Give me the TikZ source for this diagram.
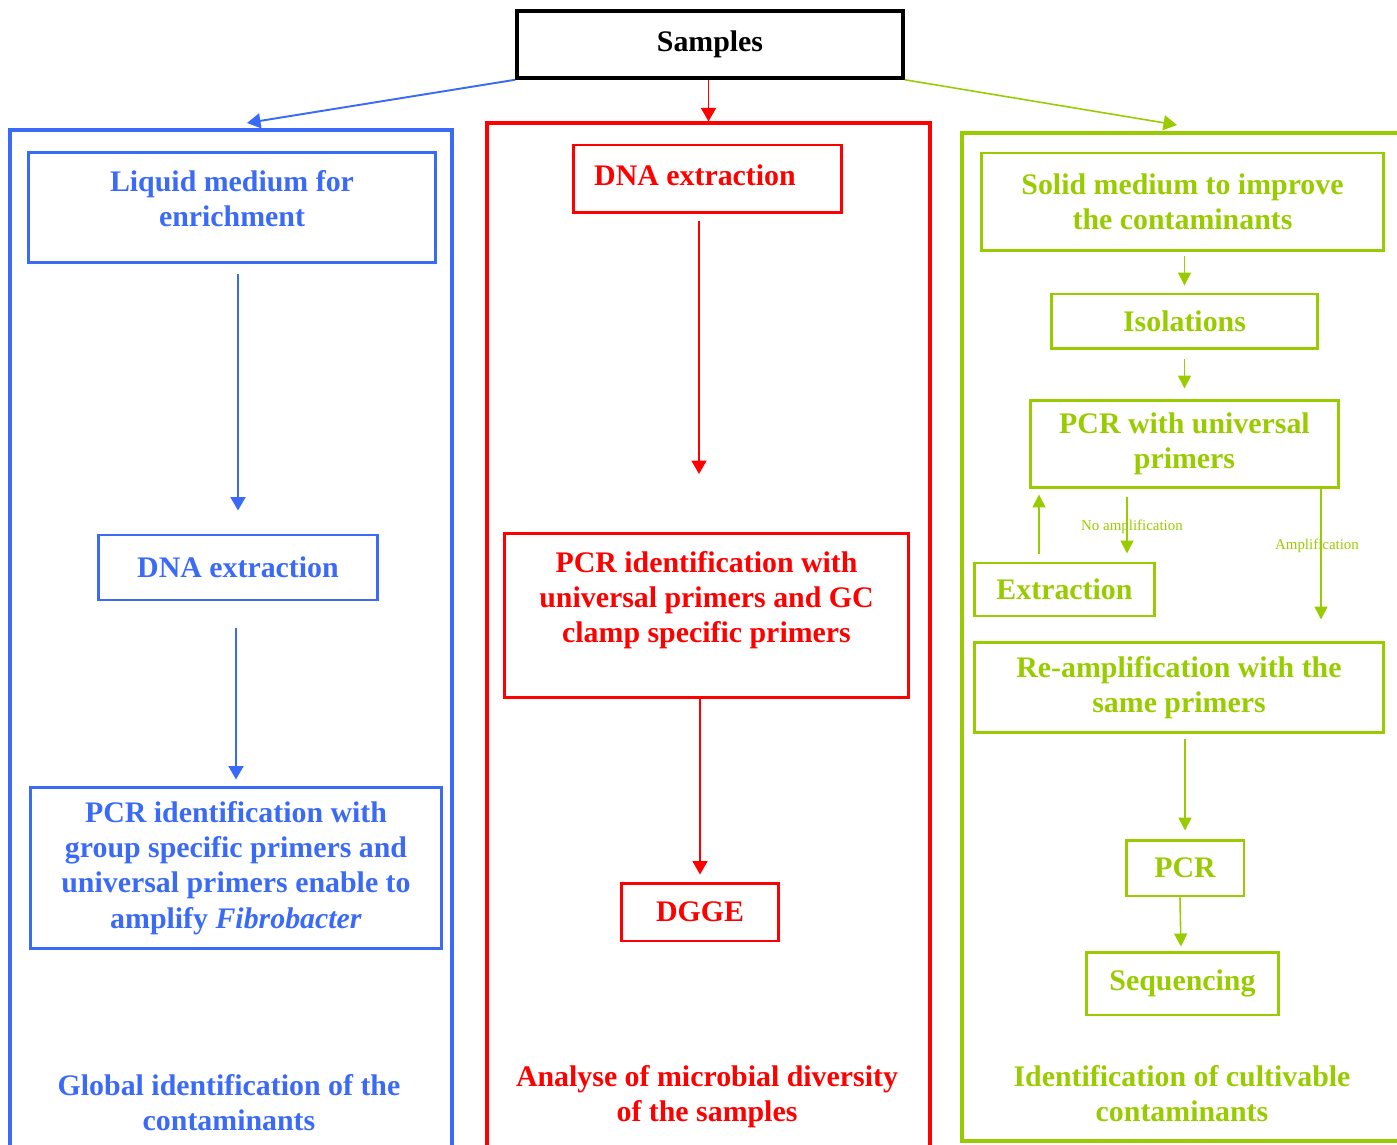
\documentclass[tikz,border=0pt]{standalone}
\usepackage{fontspec}
\setmainfont{Liberation Serif}
\usetikzlibrary{arrows.meta, calc}

\definecolor{colblue}{RGB}{59,107,246}
\definecolor{colred}{RGB}{255,0,0}
\definecolor{colgreen}{RGB}{153,204,0}

\newcommand{\lowpad}[1]{\rule[-#1]{0pt}{0pt}}

\begin{document}
\begin{tikzpicture}[
    x=0.02cm, y=-0.02cm,
    % ── node styles ─────────────────────────────────────────
    stage/.style = {draw, line width=1.7pt, align=center, inner sep=2pt,
            font=\fontsize{17}{20}\selectfont\bfseries},
    lane/.style = {draw, line width=1.9pt, inner sep=0pt},
    summary/.style = {align=center, font=\fontsize{17}{20}\selectfont\bfseries},
    tag/.style = {font=\fontsize{8.5}{10}\selectfont, text=colgreen},
    flow/.style = {-{Triangle[length=0.27cm, width=0.3cm]}, line width=1.1pt},
    gflow/.style = {-{Triangle[length=0.26cm, width=0.26cm]}, line width=0.9pt, colgreen},
    ]

    \useasboundingbox (0,0) rectangle (1397,1145);
    \clip (0,0) rectangle (1397,1145);

    % ============================================================
    % LANES  |  SAMPLES
    % ============================================================
    \node[lane, draw=colblue, minimum width=8.84cm, minimum height=20.8cm]
    (bluelane) at (231,650) {};
    \node[lane, draw=colred, minimum width=8.86cm, minimum height=20.94cm]
    (redlane) at (708.5,646.5) {};
    \node[lane, draw=colgreen, minimum width=8.96cm, minimum height=20.16cm]
    (greenlane) at (1186,637) {};

    \node[stage, draw=black, line width=2pt, minimum width=7.72cm, minimum height=1.34cm]
    (samples) at (710,44.5) {Samples};

    \coordinate (bluein) at (247,123);
    \coordinate (greenin) at (1177,125);

    \draw[flow, colblue] (samples.south west) -- (bluein);
    \draw[flow, colred] (samples.south -| redlane.north) -- (redlane.north);
    \draw[flow, colgreen, line width=0.9pt] (samples.south east) -- (greenin);

    % ============================================================
    % BLUE LANE — enrichment
    % ============================================================
    \node[stage, draw=colblue, text=colblue, minimum width=8.16cm, minimum height=2.22cm]
    (bliquid) at (232,207.5) {Liquid medium for\\enrichment\lowpad{0.36cm}};

    \node[stage, draw=colblue, text=colblue, minimum width=5.6cm, minimum height=1.3cm]
    (bdna) at (238,567.5) {DNA extraction};

    \node[stage, draw=colblue, text=colblue, minimum width=8.24cm, minimum height=3.24cm]
    (bpcr) at (236,868)
    {PCR identification with\\group specific primers and\\universal primers enable to\\amplify \textit{Fibrobacter}};

    \node[summary, text=colblue] (bsummary) at (229,1102.5)
    {Global identification of the\\contaminants};

    \draw[flow, colblue, shorten <=0.2cm, shorten >=0.46cm]
    (bliquid.south -| bdna.north) -- (bdna.north);
    \draw[flow, colblue, shorten <=0.54cm, shorten >=0.12cm]
    (bpcr.north |- bdna.south) -- (bpcr.north);

    % ============================================================
    % RED LANE — DGGE
    % ============================================================
    \node[stage, draw=colred, text=colred, minimum width=5.38cm, minimum height=1.36cm]
    (rdna) at (707.5,179) {DNA extraction\hspace*{0.5cm}\lowpad{0.16cm}};

    \node[stage, draw=colred, text=colred, minimum width=8.1cm, minimum height=3.3cm]
    (rpcr) at (706.5,615.5)
    {PCR identification with\\universal primers and GC\\clamp specific primers\lowpad{0.74cm}};

    \node[stage, draw=colred, text=colred, minimum width=3.16cm, minimum height=1.16cm]
    (rdgge) at (700,912) {DGGE};

    \node[summary, text=colred] (rsummary) at (707,1096.5)
    {Analyse of microbial diversity\\of the samples};

    \coordinate (rdrop) at (699,474);
    \draw[flow, colred, shorten <=0.14cm] (rdrop |- rdna.south) -- (rdrop);
    \draw[flow, colred, shorten >=0.14cm] (rdgge.north |- rpcr.south) -- (rdgge.north);

    % ============================================================
    % GREEN LANE — cultivable
    % ============================================================
    \node[stage, draw=colgreen, text=colgreen, minimum width=8.06cm, minimum height=1.96cm]
    (gsolid) at (1182.5,202) {Solid medium to improve\\the contaminants};

    \node[stage, draw=colgreen, text=colgreen, minimum width=5.34cm, minimum height=1.1cm]
    (giso) at (1184.5,321.5) {Isolations};

    \node[stage, draw=colgreen, text=colgreen, minimum width=6.18cm, minimum height=1.76cm]
    (gpcr) at (1184.5,444) {PCR with universal\\primers};

    \node[stage, draw=colgreen, text=colgreen, minimum width=3.62cm, minimum height=1.06cm]
    (gextract) at (1064.5,589.5) {Extraction};

    \node[stage, draw=colgreen, text=colgreen, minimum width=8.2cm, minimum height=1.82cm]
    (greamp) at (1179,687.5) {Re-amplification with the\\same primers};

    \node[stage, draw=colgreen, text=colgreen, minimum width=2.36cm, minimum height=1.12cm]
    (gpcrtwo) at (1185,868) {PCR};

    \node[stage, draw=colgreen, text=colgreen, minimum width=3.86cm, minimum height=1.26cm]
    (gseq) at (1182.5,983.5) {Sequencing};

    \node[summary, text=colgreen] (gsummary) at (1182,1093.5)
    {Identification of cultivable\\contaminants};

    \draw[gflow, shorten <=0.08cm, shorten >=0.14cm] (giso.north |- gsolid.south) -- (giso.north);
    \draw[gflow, shorten <=0.18cm, shorten >=0.2cm] (giso.south) -- (gpcr.north);

    % loop: extraction back to PCR
    \coordinate (gup) at ($(gextract.north)+(-25.5,0)$);
    \coordinate (gdown) at (1127,0);
    \coordinate (gamp) at (1321,0);

    \draw[gflow, shorten <=0.16cm, shorten >=0.1cm] (gup) -- (gup |- gpcr.south);
    \draw[gflow, shorten <=0.16cm, shorten >=0.16cm] (gdown |- gpcr.south) -- (gdown |- gextract.north);
    \node[tag] (noamp) at (1132,527) {No amplification};

    \draw[gflow, shorten >=0.42cm] (gamp |- gpcr.south) -- (gamp |- greamp.north);
    \node[tag] (amp) at (1317,546) {Amplification};

    \draw[gflow, shorten <=0.1cm, shorten >=0.16cm] (gpcrtwo.north |- greamp.south) -- (gpcrtwo.north);
    \draw[gflow, shorten >=0.08cm] ([xshift=-0.1cm]gpcrtwo.south) -- ([xshift=-0.03cm]gseq.north);

\end{tikzpicture}
\end{document}
